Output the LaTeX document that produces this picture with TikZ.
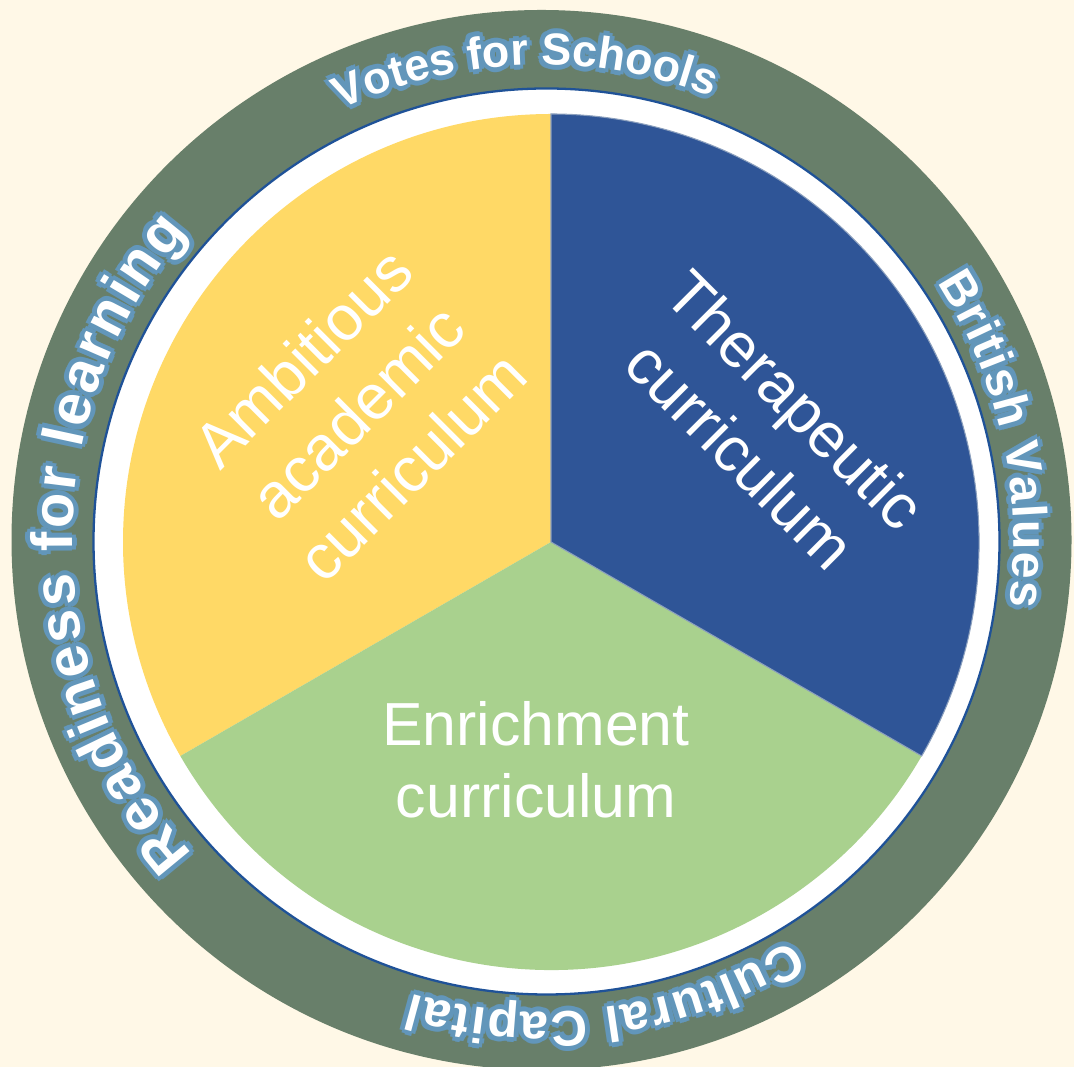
\documentclass[tikz,border=0pt]{standalone}
\usepackage{fontspec}
\setmainfont{Liberation Sans}
\usetikzlibrary{decorations.text}

\definecolor{cream}{RGB}{255,248,231}
\definecolor{ringgreen}{RGB}{104,127,106}
\definecolor{rimblue}{RGB}{31,82,152}
\definecolor{glowblue}{RGB}{98,150,186}
\definecolor{gold}{RGB}{255,217,102}
\definecolor{navy}{RGB}{47,85,151}
\definecolor{leaf}{RGB}{169,209,142}

\newcommand{\rimsize}{25pt}
\newcommand{\rimfont}{\fontsize{\rimsize}{\rimsize}\selectfont\bfseries}
% size, start angle, end angle, radius, text
\newcommand{\ringlabel}[5]{%
  \renewcommand{\rimsize}{#1}%
  \foreach \r/\o in {5/.18, 3.5/.35, 2/.7}{
    \foreach \d in {0,45,...,315}{
      \path[shift={(ring)}, shift={(\d:\r)}, opacity=\o, decorate,
        decoration={text along path, text align=fit to path, text color=glowblue,
        text={|\rimfont|#5}}] (#2:#4) arc[start angle=#2, end angle=#3, radius=#4];
    }
  }
  \path[shift={(ring)}, decorate,
    decoration={text along path, text align=fit to path, text color=white,
    text={|\rimfont|#5}}] (#2:#4) arc[start angle=#2, end angle=#3, radius=#4];
}

\begin{document}
\begin{tikzpicture}[x=0.02cm, y=0.02cm,
    slicetext/.style={text=white, align=center, font=\fontsize{34.6}{40.8}\selectfont},
    tilttext/.style={text=white, align=center, font=\fontsize{36}{44}\selectfont}]
  \useasboundingbox (0,0) rectangle (1074,1067);
  \clip (0,0) rectangle (1074,1067);
  \fill[cream] (0,0) rectangle (1074,1067);

  \coordinate (ring) at (541.5,527);
  \coordinate (rim) at (546.5,525.5);
  \coordinate (pie) at (551,525);

  % rings
  \fill[ringgreen] (ring) circle[radius=530];
  \draw[rimblue, line width=1.3pt, fill=white] (rim) circle[radius=453];

  % pie slices
  \fill[gold] (pie) -- ++(90:428) arc[start angle=90, end angle=210, radius=428] -- cycle;
  \fill[leaf] (pie) -- ++(210:428) arc[start angle=210, end angle=330, radius=428] -- cycle;
  \draw[fill=navy, draw={rgb,255:red,140;green,160;blue,190}, line width=0.6pt]
    (pie) -- ++(-30:428) arc[start angle=-30, end angle=90, radius=428] -- cycle;

  \node[tilttext, rotate=45] (ambitious) at (357,655) {Ambitious\\academic\\curriculum};
  \node[tilttext, rotate=-45] (therapeutic) at (768,640) {Therapeutic\\curriculum};
  \node[slicetext] (enrichment) at (536,307) {Enrichment\\curriculum};

  % ring texts
  \ringlabel{25.5pt}{115}{69}{475}{Votes for Schools}
  \ringlabel{27.5pt}{33}{-8}{472}{British Values}
  \ringlabel{28.5pt}{-58}{-106}{472}{Cultural Capital}
  \ringlabel{33pt}{222}{139}{469}{Readiness for learning}
\end{tikzpicture}
\end{document}
